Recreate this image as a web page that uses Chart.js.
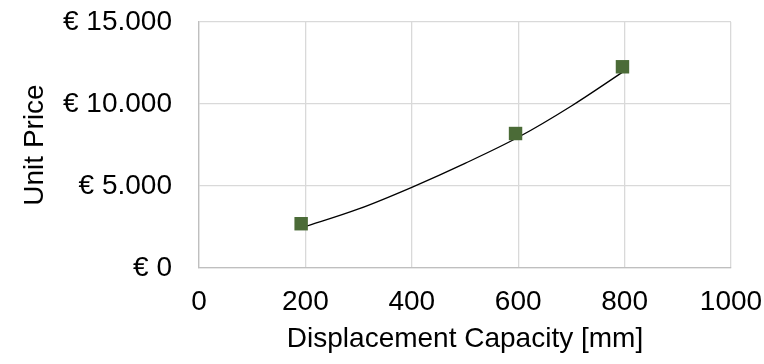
<!DOCTYPE html>
<html>
<head>
<meta charset="utf-8">
<script src="https://cdn.jsdelivr.net/npm/chart.js@4"></script>
<style>
  html, body { margin: 0; padding: 0; background: #fff; }
  #wrap { width: 764px; height: 364px; }
</style>
</head>
<body>
<div id="wrap"><canvas id="priceChart" width="764" height="364"></canvas></div>
<script>
// measured points
const capacity = [192, 595, 796];
const unitPrice = [2700, 8200, 12270];

// trendline
const trendCapacity = [195, 300, 400, 500, 600, 700, 797];
const trendPrice = [2470, 3600, 4920, 6380, 7970, 9880, 11960];

const xTicks = [0, 200, 400, 600, 800, 1000];
const yTicks = [0, 5000, 10000, 15000];

const FONT = '"Liberation Sans", Arial, sans-serif';

function toPoints(xs, ys) {
    return xs.map((x, i) => ({ x: x, y: ys[i] }));
}

const ctx = document.getElementById('priceChart').getContext('2d');
new Chart(ctx, {
    type: 'scatter',
    data: {
        datasets: [
            {
                label: 'Unit Price',
                data: toPoints(capacity, unitPrice),
                pointStyle: 'rect',
                pointRadius: 9.5,
                backgroundColor: '#4b6b37',
                borderColor: '#4b6b37',
                borderWidth: 0,
                showLine: false
            },
            {
                label: 'Trend',
                data: toPoints(trendCapacity, trendPrice),
                showLine: true,
                borderColor: '#000',
                borderWidth: 1.3,
                pointRadius: 0,
                cubicInterpolationMode: 'monotone',
                fill: false
            }
        ]
    },
    options: {
        responsive: false,
        animation: false,
        layout: { padding: { top: 22, right: 33, left: 0, bottom: 0 } },
        plugins: {
            legend: { display: false },
            tooltip: { enabled: false }
        },
        scales: {
            x: {
                type: 'linear',
                min: xTicks[0],
                max: xTicks[xTicks.length - 1],
                afterBuildTicks: axis => { axis.ticks = xTicks.map(v => ({ value: v })); },
                afterFit: axis => {
                    axis.height = 96;
                    axis.paddingLeft = 0;
                    axis.paddingRight = 0;
                },
                grid: { color: '#d9d9d9', lineWidth: 1.3, drawTicks: false },
                border: { color: '#bfbfbf', width: 1.3 },
                ticks: {
                    color: '#000',
                    padding: 17,
                    maxRotation: 0,
                    font: { family: FONT, size: 28 },
                    callback: v => String(v)
                },
                title: {
                    display: true,
                    text: 'Displacement Capacity [mm]',
                    color: '#000',
                    padding: { top: 0, bottom: 8 },
                    font: { family: FONT, size: 28 }
                }
            },
            y: {
                type: 'linear',
                min: yTicks[0],
                max: yTicks[yTicks.length - 1],
                afterBuildTicks: axis => { axis.ticks = yTicks.map(v => ({ value: v })); },
                afterFit: axis => {
                    axis.width = 199;
                    axis.paddingTop = 0;
                    axis.paddingBottom = 0;
                },
                grid: { color: '#d9d9d9', lineWidth: 1.3, drawTicks: false },
                border: { color: '#bfbfbf', width: 1.3 },
                ticks: {
                    color: '#000',
                    padding: 27,
                    font: { family: FONT, size: 28 },
                    callback: v => '€ ' + v.toLocaleString('de-DE')
                },
                title: {
                    display: true,
                    text: 'Unit Price',
                    color: '#000',
                    padding: { top: 18, bottom: 0 },
                    font: { family: FONT, size: 28 }
                }
            }
        }
    }
});
</script>
</body>
</html>
